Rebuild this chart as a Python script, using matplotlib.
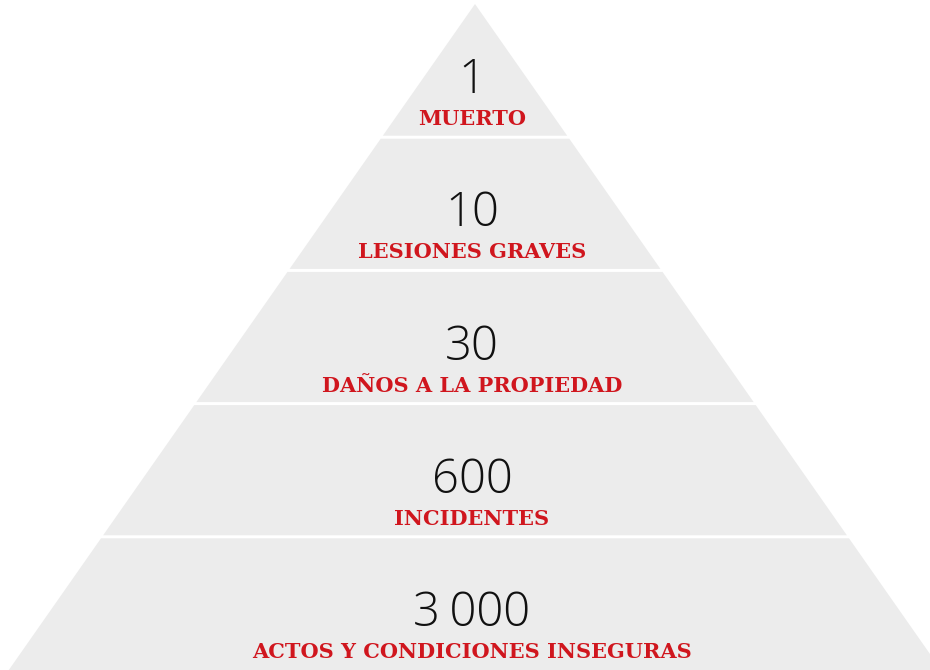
import matplotlib.pyplot as plt
from matplotlib.patches import Polygon

# Pyramid levels, from top to bottom
counts = ["1", "10", "30", "600", "3\u2009000"]
labels = ["MUERTO", "LESIONES GRAVES", "DAÑOS A LA PROPIEDAD", "INCIDENTES",
          "ACTOS Y CONDICIONES INSEGURAS"]

band_color = "#ececec"
red = "#d0161e"

# Figure in pixel units
W, H = 930, 670
fig = plt.figure(figsize=(W / 100, H / 100), dpi=100)
ax = fig.add_axes([0, 0, 1, 1])
ax.set_xlim(0, W)
ax.set_ylim(H, 0)
ax.set_axis_off()

# Pyramid geometry
apex_x, apex_y = 475, 4
base_y = 670
slope = 0.70  # half-width grows 0.70 px per px down
gap = 1.5

n = len(counts)
step = (base_y - apex_y) / n


def half_width(y):
    return (y - apex_y) * slope


for i in range(n):
    y0 = apex_y + i * step
    y1 = y0 + step
    top = y0 + (gap if i > 0 else 0)
    bot = y1 - (gap if i < n - 1 else 0)
    pts = [(apex_x - half_width(top), top), (apex_x + half_width(top), top),
           (apex_x + half_width(bot), bot), (apex_x - half_width(bot), bot)]
    ax.add_patch(Polygon(pts, closed=True, facecolor=band_color,
                         edgecolor="none"))

    cx = 472
    ax.text(cx, y1 - 44, counts[i], ha="center", va="baseline",
            fontsize=34, family="Open Sans", fontweight="light", color="#111111")
    ax.text(cx, y1 - 12, labels[i], ha="center", va="baseline",
            fontsize=15, family="DejaVu Serif", fontweight="bold", color=red)

plt.savefig("out.png", dpi=100)
